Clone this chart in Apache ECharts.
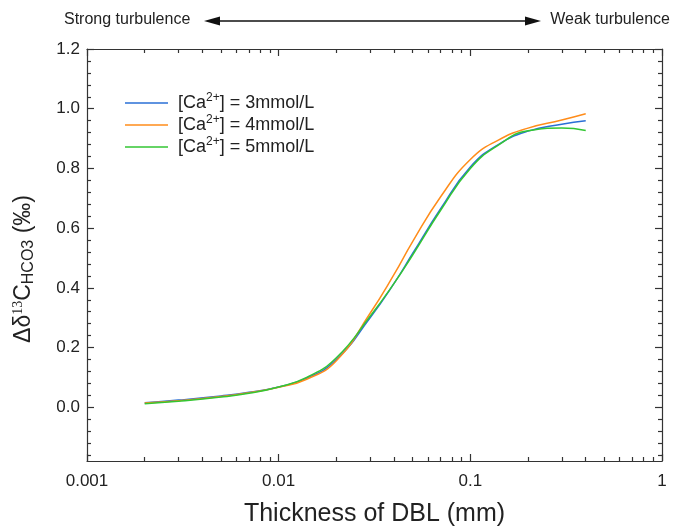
<!DOCTYPE html>
<html>
<head>
<meta charset="utf-8">
<script src="https://cdn.jsdelivr.net/npm/echarts@6/dist/echarts.min.js"></script>
<style>
  html, body { margin: 0; padding: 0; background: #fff; }
  #chart { width: 674px; height: 526px; }
</style>
</head>
<body>
<div id="chart"></div>
<script>
// DBL thickness (mm)
var thickness = [0.002, 0.003, 0.005, 0.007, 0.01, 0.014, 0.02, 0.03, 0.04, 0.05, 0.07, 0.1, 0.14, 0.2, 0.3, 0.4];
// Δδ13C HCO3 for each Ca2+ concentration
var ca3 = [0.015, 0.024, 0.038, 0.050, 0.068, 0.097, 0.160, 0.300, 0.415, 0.515, 0.665, 0.805, 0.880, 0.925, 0.948, 0.960];
var ca4 = [0.014, 0.022, 0.036, 0.049, 0.067, 0.094, 0.156, 0.315, 0.445, 0.555, 0.705, 0.830, 0.895, 0.935, 0.962, 0.983];
var ca5 = [0.012, 0.020, 0.034, 0.047, 0.068, 0.100, 0.166, 0.305, 0.415, 0.510, 0.660, 0.800, 0.878, 0.926, 0.935, 0.927];
var concentrations = [3, 4, 5];
var colors = ['#2a6fd6', '#ff8c1a', '#33c633'];

var xMajor = [0.001, 0.01, 0.1, 1];
var xMinor = [0.002, 0.003, 0.004, 0.005, 0.006, 0.007, 0.008, 0.009,
              0.02, 0.03, 0.04, 0.05, 0.06, 0.07, 0.08, 0.09,
              0.2, 0.3, 0.4, 0.5, 0.6, 0.7, 0.8, 0.9];
var yMajor = [0, 0.2, 0.4, 0.6, 0.8, 1.0, 1.2];
var yMinor = [-0.16, -0.12, -0.08, -0.04, 0.04, 0.08, 0.12, 0.16, 0.24, 0.28, 0.32, 0.36,
              0.44, 0.48, 0.52, 0.56, 0.64, 0.68, 0.72, 0.76, 0.84, 0.88, 0.92, 0.96,
              1.04, 1.08, 1.12, 1.16];

var font = 'Liberation Sans, Arial, sans-serif';
var axisColor = '#333';

function pairs(ys) {
  return thickness.map(function (x, i) { return [x, ys[i]]; });
}

function xAx(pos, ticks, len, main) {
  return {
    type: 'log', logBase: 10, min: 0.001, max: 1, position: pos,
    axisLine: { show: main, onZero: false, lineStyle: { color: axisColor, width: 1.2 } },
    axisTick: { show: true, inside: true, length: len, customValues: ticks, lineStyle: { color: axisColor, width: 1.2 } },
    axisLabel: { show: false },
    splitLine: { show: false }
  };
}
function yAx(pos, ticks, len, main) {
  return {
    type: 'value', min: -0.18, max: 1.2, position: pos,
    axisLine: { show: main, onZero: false, lineStyle: { color: axisColor, width: 1.2 } },
    axisTick: { show: true, inside: true, length: len, customValues: ticks, lineStyle: { color: axisColor, width: 1.2 } },
    axisLabel: { show: false },
    splitLine: { show: false }
  };
}

var xAxes = [xAx('bottom', xMajor, 7, true), xAx('bottom', xMinor, 4, false),
             xAx('top', xMajor, 7, true), xAx('top', xMinor, 4, false)];
xAxes[0].axisLabel = {
  show: true, customValues: xMajor, margin: 12, color: '#222', fontSize: 17, fontFamily: font,
  formatter: function (v) { return String(v); }
};
xAxes[0].name = 'Thickness of DBL (mm)';
xAxes[0].nameLocation = 'middle';
xAxes[0].nameGap = 41;
xAxes[0].nameTextStyle = { fontSize: 25, color: '#222', fontFamily: font };

var yAxes = [yAx('left', yMajor, 7, true), yAx('left', yMinor, 4, false),
             yAx('right', yMajor, 7, true), yAx('right', yMinor, 4, false)];
yAxes[0].axisLabel = {
  show: true, customValues: yMajor, margin: 7, color: '#222', fontSize: 17, fontFamily: font,
  formatter: function (v) { return v.toFixed(1); }
};
yAxes[0].name = '{a|Δδ}{sup|13}{a|C}{sub|HCO3}{a| (‰)}';
yAxes[0].nameLocation = 'middle';
yAxes[0].nameGap = 50;
yAxes[0].nameRotate = 90;
yAxes[0].nameTextStyle = {
  color: '#222', fontFamily: font, padding: [0, 28, 0, 0],
  rich: {
    a: { fontSize: 23, color: '#222', fontFamily: font },
    sup: { fontSize: 14, color: '#222', fontFamily: 'Liberation Serif, serif', padding: [0, 0, 11, 0] },
    sub: { fontSize: 16, color: '#222', fontFamily: font, padding: [11, 0, 0, 0] }
  }
};

var series = [ca3, ca4, ca5].map(function (vals, i) {
  return {
    name: '[Ca2+] = ' + concentrations[i] + 'mmol/L',
    type: 'line', smooth: true, showSymbol: false, symbol: 'none',
    xAxisIndex: 0, yAxisIndex: 0,
    lineStyle: { width: 1.5, color: colors[i] },
    itemStyle: { color: colors[i] },
    data: pairs(vals)
  };
});

var chart = echarts.init(document.getElementById('chart'), null, { renderer: 'canvas' });
chart.setOption({
  animation: false,
  backgroundColor: '#fff',
  grid: { left: 87, right: 12, top: 49, bottom: 65, containLabel: false, outerBoundsMode: 'none' },
  legend: {
    orient: 'vertical', left: 120, top: 87, itemGap: 2,
    icon: 'rect', itemWidth: 43, itemHeight: 1.5,
    textStyle: {
      fontSize: 18, color: '#222', fontFamily: font, padding: [0, 0, 0, 5],
      rich: { sup: { fontSize: 12, color: '#222', fontFamily: font, padding: [0, 0, 10, 0] } }
    },
    formatter: function (name) { return name.replace('2+', '{sup|2+}'); },
    data: series.map(function (s) { return s.name; })
  },
  xAxis: xAxes,
  yAxis: yAxes,
  series: series,
  graphic: [
    { type: 'text', left: 64, top: 12, style: { text: 'Strong turbulence', fontSize: 16, fill: '#222', fontFamily: font } },
    { type: 'text', right: 4, top: 12, style: { text: 'Weak turbulence', fontSize: 16, fill: '#222', fontFamily: font } },
    { type: 'line', shape: { x1: 212, y1: 21, x2: 532, y2: 21 }, style: { stroke: '#111', lineWidth: 1.5 } },
    { type: 'polygon', shape: { points: [[204, 21], [220, 16.5], [220, 25.5]] }, style: { fill: '#111' } },
    { type: 'polygon', shape: { points: [[541, 21], [525, 16.5], [525, 25.5]] }, style: { fill: '#111' } }
  ]
});
</script>
</body>
</html>
